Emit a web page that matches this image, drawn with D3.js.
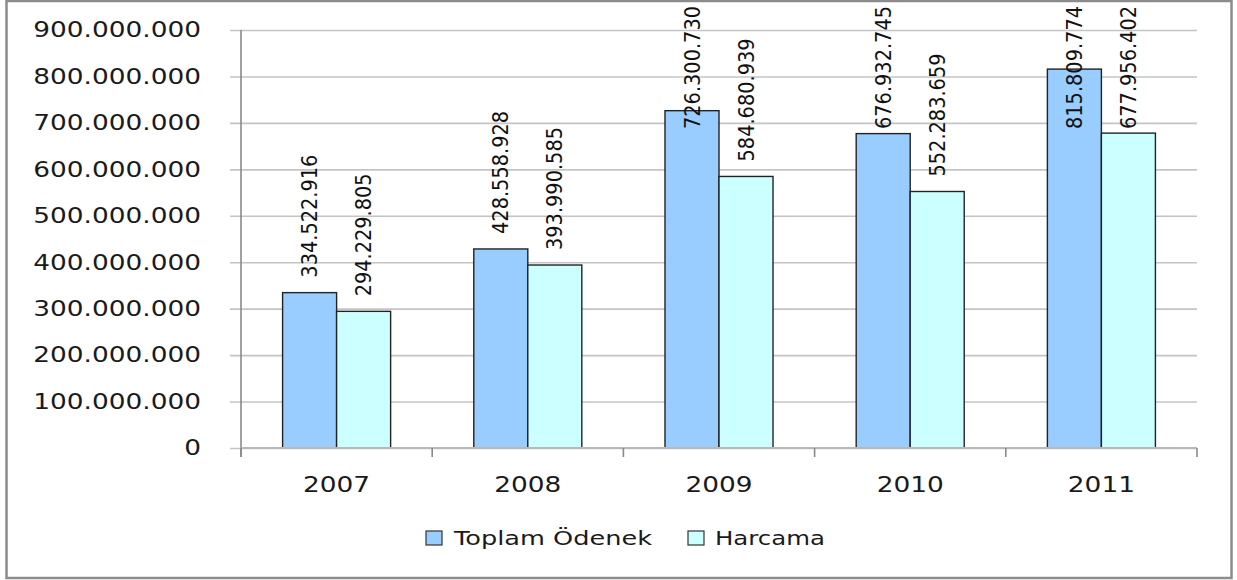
<!DOCTYPE html>
<html>
<head>
<meta charset="utf-8">
<script src="https://cdn.jsdelivr.net/npm/d3@7"></script>
<style>
  body { margin: 0; background: #fff; }
  svg { display: block; }
</style>
</head>
<body>
<svg id="chart" width="1237" height="580"></svg>
<script>
// data
var years = ["2007", "2008", "2009", "2010", "2011"];
var seriesNames = ["Toplam Ödenek", "Harcama"];
var toplam = [334522916, 428558928, 726300730, 676932745, 815809774];
var harcama = [294229805, 393990585, 584680939, 552283659, 677956402];
var yTicks = [0, 100000000, 200000000, 300000000, 400000000, 500000000, 600000000, 700000000, 800000000, 900000000];

var colors = ["#99ccff", "#ccffff"];

// Turkish style number format (dots as thousands separator)
var tr = d3.formatLocale({ decimal: ",", thousands: ".", grouping: [3], currency: ["", ""] });
var fmt = tr.format(",d");

var svg = d3.select("#chart");

// outer frame
svg.append("rect")
    .attr("x", 6.5).attr("y", 1)
    .attr("width", 1225).attr("height", 577)
    .attr("fill", "#fff")
    .attr("stroke", "#8c8c8c")
    .attr("stroke-width", 2.5);

var plot = { left: 241, right: 1197, top: 30, bottom: 448 };

var y = d3.scaleLinear()
    .domain([0, 900000000])
    .range([plot.bottom, plot.top]);

var x = d3.scaleBand()
    .domain(years)
    .range([plot.left, plot.right]);

var bw = x.bandwidth();
var gap = bw * 0.435;
var x1 = d3.scaleBand()
    .domain(seriesNames)
    .range([gap / 2, bw - gap / 2]);

// gridlines
svg.append("g")
    .attr("class", "grid")
    .attr("transform", "translate(" + plot.left + ",0)")
    .call(d3.axisLeft(y)
        .tickValues(yTicks)
        .tickSize(-(plot.right - plot.left))
        .tickSizeOuter(0)
        .tickFormat(""))
    .call(g => g.select(".domain").remove())
    .call(g => g.selectAll("line")
        .attr("stroke", "#c4c4c4")
        .attr("stroke-width", 1.6)
        .attr("x1", -11));

// y axis labels
var yLab = svg.append("g")
    .selectAll("text")
    .data(yTicks)
    .join("text")
    .attr("x", 201)
    .attr("y", d => y(d))
    .attr("dy", "0.35em")
    .attr("text-anchor", "end")
    .attr("font-family", "DejaVu Sans")
    .attr("font-size", 21)
    .attr("fill", "#1a1a1a")
    .text(d => fmt(d));
yLab.each(function() {
    var w = this.getComputedTextLength();
    d3.select(this).attr("textLength", w * 1.255).attr("lengthAdjust", "spacingAndGlyphs");
});

// bars
var rows = years.map((yr, i) => ({ year: yr, values: [toplam[i], harcama[i]] }));

var groups = svg.append("g")
    .selectAll("g")
    .data(rows)
    .join("g")
    .attr("transform", d => "translate(" + x(d.year) + ",0)");

groups.selectAll("rect")
    .data(d => d.values.map((v, j) => ({ name: seriesNames[j], value: v, j: j })))
    .join("rect")
    .attr("x", d => x1(d.name))
    .attr("y", d => y(d.value))
    .attr("width", x1.bandwidth())
    .attr("height", d => y(0) - y(d.value))
    .attr("fill", d => colors[d.j])
    .attr("stroke", "#222")
    .attr("stroke-width", 1.4);

// axes lines
svg.append("line")
    .attr("x1", plot.left).attr("x2", plot.left)
    .attr("y1", plot.top).attr("y2", plot.bottom + 9)
    .attr("stroke", "#8a8a8a").attr("stroke-width", 1.6);

var xAxis = svg.append("g")
    .attr("transform", "translate(0," + plot.bottom + ")");
xAxis.append("line")
    .attr("x1", plot.left).attr("x2", plot.right)
    .attr("stroke", "#b8b8b8").attr("stroke-width", 2);
xAxis.selectAll(".tk")
    .data(years.map(d => x(d)).concat([plot.right]))
    .join("line")
    .attr("class", "tk")
    .attr("x1", d => d).attr("x2", d => d)
    .attr("y1", 0).attr("y2", 9)
    .attr("stroke", "#8a8a8a").attr("stroke-width", 1.6);

var xLab = svg.append("g")
    .selectAll("text")
    .data(years)
    .join("text")
    .attr("x", d => x(d) + bw / 2)
    .attr("y", 492)
    .attr("text-anchor", "middle")
    .attr("font-family", "DejaVu Sans")
    .attr("font-size", 21)
    .attr("fill", "#1a1a1a")
    .text(d => d);
xLab.each(function() {
    var w = this.getComputedTextLength();
    d3.select(this).attr("textLength", w * 1.255).attr("lengthAdjust", "spacingAndGlyphs");
});

// value labels, rotated, clamped to the top of the chart
var labLen = 123;
groups.selectAll("text")
    .data(d => d.values.map((v, j) => ({ name: seriesNames[j], value: v })))
    .join("text")
    .attr("transform", d => {
        var cx = x1(d.name) + x1.bandwidth() / 2;
        var bottom = Math.max(y(d.value) - 15, 6 + labLen);
        return "translate(" + cx + "," + bottom + ") rotate(-90)";
    })
    .attr("dy", "0.36em")
    .attr("font-family", "'Liberation Sans Narrow', 'DejaVu Sans Condensed', sans-serif")
    .attr("font-size", 21)
    .attr("fill", "#111")
    .attr("textLength", labLen)
    .attr("lengthAdjust", "spacingAndGlyphs")
    .text(d => fmt(d.value));

// legend
var legend = svg.append("g");
var legItems = [
    { name: seriesNames[0], sx: 426, tx: 454, tw: 198 },
    { name: seriesNames[1], sx: 688, tx: 715, tw: 110 }
];
legItems.forEach(function(it, i) {
    legend.append("rect")
        .attr("x", it.sx).attr("y", 531)
        .attr("width", 16).attr("height", 14)
        .attr("fill", colors[i])
        .attr("stroke", "#333").attr("stroke-width", 1.2);
    legend.append("text")
        .attr("x", it.tx).attr("y", 545)
        .attr("font-family", "DejaVu Sans")
        .attr("font-size", 20)
        .attr("fill", "#1a1a1a")
        .attr("textLength", it.tw)
        .attr("lengthAdjust", "spacingAndGlyphs")
        .text(it.name);
});
</script>
</body>
</html>
